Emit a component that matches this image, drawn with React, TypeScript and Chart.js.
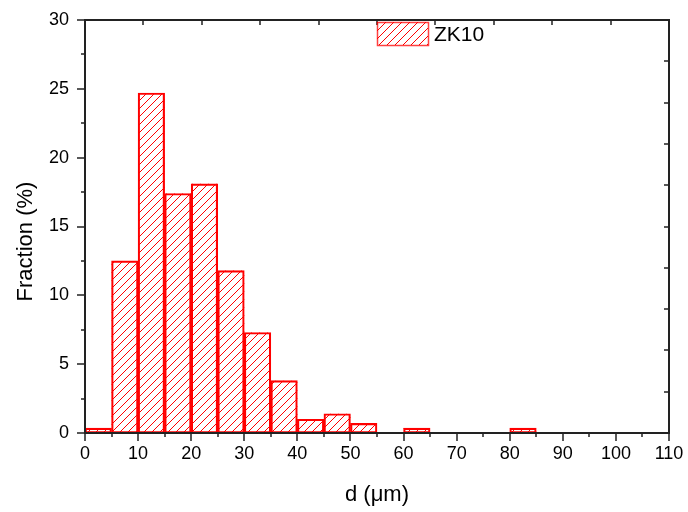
import React, { useEffect, useRef } from "react";
import { Chart, registerables } from "chart.js";

Chart.register(...registerables);

// Histogram bins (centre of each 5 µm bin) and fraction values (%)
const binCenters = [2.5, 7.5, 12.5, 17.5, 22.5, 27.5, 32.5, 37.5, 42.5, 47.5, 52.5, 62.5, 82.5];
const fractions = [0.35, 12.5, 24.7, 17.4, 18.1, 11.8, 7.3, 3.8, 1.0, 1.4, 0.7, 0.35, 0.35];
const seriesLabel = "ZK10";
const xTitle = "d (\u03bcm)";
const yTitle = "Fraction (%)";
const xRange = [0, 110];
const yRange = [0, 30];

const FONT = "'Liberation Sans', Arial, sans-serif";
const RED = "#ff0000";
const HATCH_STEP = 8;

function hatchRect(ctx: CanvasRenderingContext2D, l: number, t: number, r: number, b: number) {
  if (b - t < 0.5 || r - l < 0.5) return;
  ctx.save();
  ctx.beginPath();
  ctx.rect(l, t, r - l, b - t);
  ctx.clip();
  ctx.strokeStyle = RED;
  ctx.lineWidth = 1;
  ctx.beginPath();
  const cStart = Math.floor((l + t) / HATCH_STEP) * HATCH_STEP;
  const cEnd = r + b + HATCH_STEP;
  for (let c = cStart; c <= cEnd; c += HATCH_STEP) {
    ctx.moveTo(c - b - 1, b + 1);
    ctx.lineTo(c - t + 1, t - 1);
  }
  ctx.stroke();
  ctx.restore();
}

export default function App() {
  const ref = useRef<HTMLCanvasElement | null>(null);

  useEffect(() => {
    document.body.style.margin = "0";
    const canvas = ref.current;
    if (!canvas) return;

    const hatchPlugin = {
      id: "hatchFill",
      beforeDatasetsDraw(chart: any) {
        const { ctx } = chart;
        const meta = chart.getDatasetMeta(0);
        meta.data.forEach((el: any) => {
          const p = el.getProps(["x", "y", "base", "width"], true);
          const l = p.x - p.width / 2;
          const r = p.x + p.width / 2;
          const t = Math.min(p.y, p.base);
          const b = Math.max(p.y, p.base);
          hatchRect(ctx, l, t, r, b);
        });
      },
    };

    const framePlugin = {
      id: "originFrame",
      afterDatasetsDraw(chart: any) {
        const { ctx, chartArea, scales } = chart;
        const { left, right, top, bottom } = chartArea;
        const x = scales.x;
        const y = scales.y;
        ctx.save();
        ctx.strokeStyle = "#222";
        ctx.lineWidth = 1.5;
        ctx.beginPath();
        // bottom ticks (outward)
        for (let v = xRange[0]; v <= xRange[1]; v += 5) {
          const px = Math.round(x.getPixelForValue(v));
          const len = v % 10 === 0 ? 8 : 4;
          ctx.moveTo(px, bottom);
          ctx.lineTo(px, bottom + len);
        }
        // left ticks (outward)
        for (let v = yRange[0]; v <= yRange[1]; v += 2.5) {
          const py = Math.round(y.getPixelForValue(v));
          const len = v % 5 === 0 ? 8 : 4;
          ctx.moveTo(left, py);
          ctx.lineTo(left - len, py);
        }
        // top ticks (inward)
        for (let v = xRange[0]; v <= xRange[1]; v += 11) {
          const px = Math.round(x.getPixelForValue(v));
          ctx.moveTo(px, top);
          ctx.lineTo(px, top + 5);
        }
        // right ticks (inward)
        for (let v = yRange[0]; v <= yRange[1]; v += 3) {
          const py = Math.round(y.getPixelForValue(v));
          ctx.moveTo(right, py);
          ctx.lineTo(right - 5, py);
        }
        ctx.stroke();
        ctx.lineWidth = 2;
        ctx.strokeRect(left, top, right - left, bottom - top);
        ctx.restore();
      },
      afterDraw(chart: any) {
        const { ctx, chartArea } = chart;
        const { left, top, bottom } = chartArea;
        ctx.save();
        // legend
        const bx = Math.round(left + 292);
        const by = Math.round(top + 2);
        hatchRect(ctx, bx, by, bx + 51, by + 23);
        ctx.strokeStyle = "rgba(255,0,0,0.75)";
        ctx.lineWidth = 1.5;
        ctx.strokeRect(bx + 0.5, by + 0.5, 51, 23);
        ctx.fillStyle = "#000";
        ctx.font = `21px ${FONT}`;
        ctx.textAlign = "left";
        ctx.textBaseline = "middle";
        ctx.fillText(chart.data.datasets[0].label, bx + 57, by + 13);
        // y title
        ctx.translate(26, (top + bottom) / 2 + 15);
        ctx.rotate(-Math.PI / 2);
        ctx.textAlign = "center";
        ctx.textBaseline = "middle";
        ctx.font = `22px ${FONT}`;
        ctx.fillText(yTitle, 0, 0);
        ctx.restore();
      },
    };

    const chart = new Chart(canvas, {
      type: "bar",
      data: {
        datasets: [
          {
            label: seriesLabel,
            data: binCenters.map((c, i) => ({ x: c, y: fractions[i] })),
            backgroundColor: "rgba(0,0,0,0)",
            borderColor: RED,
            borderWidth: 1.5,
            borderSkipped: false,
            barPercentage: 1,
            categoryPercentage: 1,
          },
        ],
      },
      options: {
        responsive: false,
        animation: false,
        layout: { padding: { top: 20, right: 19, left: 0, bottom: 0 } },
        plugins: {
          legend: { display: false },
          tooltip: { enabled: false },
        },
        scales: {
          x: {
            type: "linear",
            offset: false,
            min: xRange[0],
            max: xRange[1],
            afterFit: (s: any) => {
              s.height = 79;
            },
            grid: { display: false, drawTicks: true, tickLength: 10 },
            border: { display: false },
            ticks: {
              stepSize: 10,
              padding: 0,
              color: "#000",
              font: { family: FONT, size: 18 },
              maxRotation: 0,
              autoSkip: false,
            },
            title: {
              display: true,
              text: xTitle,
              color: "#000",
              font: { family: FONT, size: 22 },
              padding: { top: 0, bottom: 4 },
            },
          },
          y: {
            min: yRange[0],
            max: yRange[1],
            afterFit: (s: any) => {
              s.width = 85;
            },
            grid: { display: false, drawTicks: true, tickLength: 16 },
            border: { display: false },
            ticks: {
              stepSize: 5,
              padding: 0,
              color: "#000",
              font: { family: FONT, size: 18 },
            },
          },
        },
      },
      plugins: [hatchPlugin, framePlugin],
    });

    return () => chart.destroy();
  }, []);

  return (
    <div style={{ width: 688, height: 512 }}>
      <canvas ref={ref} width={688} height={512} style={{ display: "block" }} />
    </div>
  );
}
